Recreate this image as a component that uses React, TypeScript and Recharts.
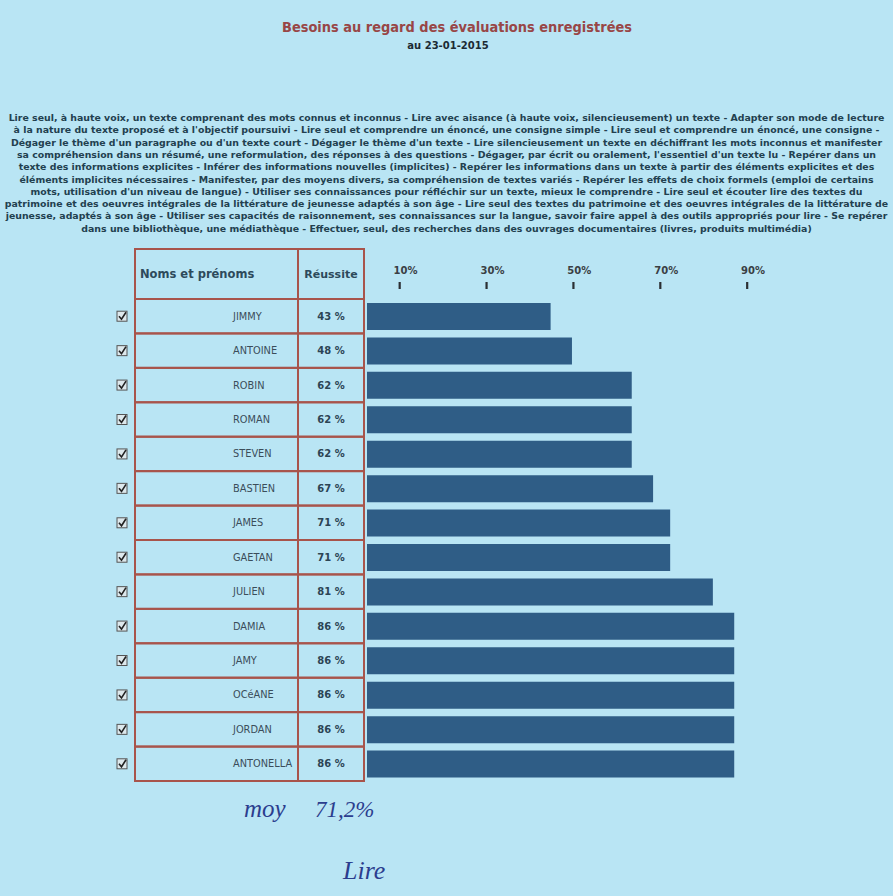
import React from "react";
import { BarChart, Bar, XAxis, YAxis } from "recharts";

const NAMES = [
  "JIMMY",
  "ANTOINE",
  "ROBIN",
  "ROMAN",
  "STEVEN",
  "BASTIEN",
  "JAMES",
  "GAETAN",
  "JULIEN",
  "DAMIA",
  "JAMY",
  "OCéANE",
  "JORDAN",
  "ANTONELLA",
];
const SCORES = [43, 48, 62, 62, 62, 67, 71, 71, 81, 86, 86, 86, 86, 86];
const SCALE_TICKS = [10, 30, 50, 70, 90];

const TITLE = "Besoins au regard des évaluations enregistrées";
const SUBTITLE = "au 23-01-2015";
const SKILLS = [
  "Lire seul, à haute voix, un texte comprenant des mots connus et inconnus - Lire avec aisance (à haute voix, silencieusement) un texte - Adapter son mode de lecture",
  "à la nature du texte proposé et à l'objectif poursuivi - Lire seul et comprendre un énoncé, une consigne simple - Lire seul et comprendre un énoncé, une consigne -",
  "Dégager le thème d'un paragraphe ou d'un texte court - Dégager le thème d'un texte - Lire silencieusement un texte en déchiffrant les mots inconnus et manifester",
  "sa compréhension dans un résumé, une reformulation, des réponses à des questions - Dégager, par écrit ou oralement, l'essentiel d'un texte lu - Repérer dans un",
  "texte des informations explicites - Inférer des informations nouvelles (implicites) - Repérer les informations dans un texte à partir des éléments explicites et des",
  "éléments implicites nécessaires - Manifester, par des moyens divers, sa compréhension de textes variés - Repérer les effets de choix formels (emploi de certains",
  "mots, utilisation d'un niveau de langue) - Utiliser ses connaissances pour réfléchir sur un texte, mieux le comprendre - Lire seul et écouter lire des textes du",
  "patrimoine et des oeuvres intégrales de la littérature de jeunesse adaptés à son âge - Lire seul des textes du patrimoine et des oeuvres intégrales de la littérature de",
  "jeunesse, adaptés à son âge - Utiliser ses capacités de raisonnement, ses connaissances sur la langue, savoir faire appel à des outils appropriés pour lire - Se repérer",
  "dans une bibliothèque, une médiathèque - Effectuer, seul, des recherches dans des ouvrages documentaires (livres, produits multimédia)",
];

const W = 893;
const H = 896;
const PAPER = "#b9e5f4";
const BAR = "#2f5d86";
const BORDER = "#a8544b";
const INK = "#22404f";
const PEN = "#2b3d8e";

const TABLE_TOP = 249;
const HEAD_H = 50;
const BOTTOM = 115;
const ROW_H = (H - TABLE_TOP - HEAD_H - BOTTOM) / NAMES.length;

const rows = NAMES.map((name, i) => ({ name, value: SCORES[i] }));

function ScaleTick(props: any) {
  const { x, payload } = props;
  return (
    <g>
      <text
        x={x + 6}
        y={274}
        textAnchor="middle"
        fontFamily="DejaVu Sans"
        fontWeight="bold"
        fontSize={10}
        fill="#3a3f44"
      >
        {payload.value}%
      </text>
      <rect x={x - 1} y={282} width={2.2} height={7} fill="#2b2f33" />
    </g>
  );
}

function RowTick(props: any) {
  const { y, payload } = props;
  const i = NAMES.indexOf(payload.value);
  const top = y - ROW_H / 2;
  return (
    <g>
      <rect x={117} y={y - 5} width={10} height={10} fill="#dde8ec" stroke="#555" strokeWidth={1} />
      <path d={`M119 ${y} L121.5 ${y + 3} L126 ${y - 4}`} fill="none" stroke="#222" strokeWidth={1.6} />
      <rect x={135} y={top} width={163} height={ROW_H} fill="none" stroke={BORDER} strokeWidth={2} />
      <rect x={298} y={top} width={66} height={ROW_H} fill="none" stroke={BORDER} strokeWidth={2} />
      <text x={233} y={y + 3.5} fontFamily="DejaVu Sans" fontSize={9.8} fill="#3b4d5a">
        {payload.value}
      </text>
      <text
        x={331}
        y={y + 3.5}
        textAnchor="middle"
        fontFamily="DejaVu Sans"
        fontWeight="bold"
        fontSize={10}
        fill="#2c4454"
      >
        {SCORES[i]} %
      </text>
    </g>
  );
}

export default function App() {
  return (
    <div
      style={{
        position: "absolute",
        left: 0,
        top: 0,
        width: W,
        height: H,
        background: PAPER,
        overflow: "hidden",
      }}
    >
      <svg width={W} height={H} style={{ position: "absolute", left: 0, top: 0 }}>
        <text
          x={457}
          y={32}
          textAnchor="middle"
          fontFamily="DejaVu Sans"
          fontWeight="bold"
          fontSize={13.5}
          fill="#984646"
          textLength={350}
          lengthAdjust="spacingAndGlyphs"
        >
          {TITLE}
        </text>
        <text
          x={448}
          y={49}
          textAnchor="middle"
          fontFamily="DejaVu Sans"
          fontWeight="bold"
          fontSize={10}
          fill="#1c2a33"
        >
          {SUBTITLE}
        </text>
        {SKILLS.map((line, i) => (
          <text
            key={i}
            x={446.5}
            y={121 + i * 12.3}
            textAnchor="middle"
            fontFamily="DejaVu Sans"
            fontWeight="bold"
            fontSize={9.4}
            fill={INK}
          >
            {line}
          </text>
        ))}
        <rect x={135} y={TABLE_TOP} width={163} height={HEAD_H} fill="none" stroke={BORDER} strokeWidth={2} />
        <rect x={298} y={TABLE_TOP} width={66} height={HEAD_H} fill="none" stroke={BORDER} strokeWidth={2} />
        <text x={140} y={278} fontFamily="DejaVu Sans" fontWeight="bold" fontSize={11.5} fill="#2d4a5b">
          Noms et prénoms
        </text>
        <text
          x={331}
          y={278}
          textAnchor="middle"
          fontFamily="DejaVu Sans"
          fontWeight="bold"
          fontSize={11}
          fill="#2d4a5b"
        >
          Réussite
        </text>
        <text x={244} y={817} fontFamily="Liberation Serif" fontStyle="italic" fontSize={25} fill={PEN}>
          moy
        </text>
        <text x={315} y={817} fontFamily="Liberation Serif" fontStyle="italic" fontSize={23} fill={PEN}>
          71,2%
        </text>
        <text x={343} y={879} fontFamily="Liberation Serif" fontStyle="italic" fontSize={26} fill={PEN}>
          Lire
        </text>
      </svg>
      <div style={{ position: "absolute", left: 0, top: 0 }}>
        <BarChart
          width={W}
          height={H}
          layout="vertical"
          data={rows}
          margin={{ top: TABLE_TOP, right: 99, bottom: BOTTOM, left: 0 }}
          barSize={27}
        >
          <XAxis xAxisId="v" type="number" domain={[0, 100]} hide />
          <XAxis
            xAxisId="t"
            type="number"
            orientation="top"
            domain={[2.5, 100.8]}
            allowDataOverflow
            ticks={SCALE_TICKS}
            interval={0}
            height={HEAD_H}
            axisLine={false}
            tickLine={false}
            tick={<ScaleTick />}
          />
          <YAxis
            type="category"
            dataKey="name"
            width={367}
            interval={0}
            axisLine={false}
            tickLine={false}
            tick={<RowTick />}
          />
          <Bar dataKey="value" xAxisId="v" fill={BAR} isAnimationActive={false} />
        </BarChart>
      </div>
    </div>
  );
}
